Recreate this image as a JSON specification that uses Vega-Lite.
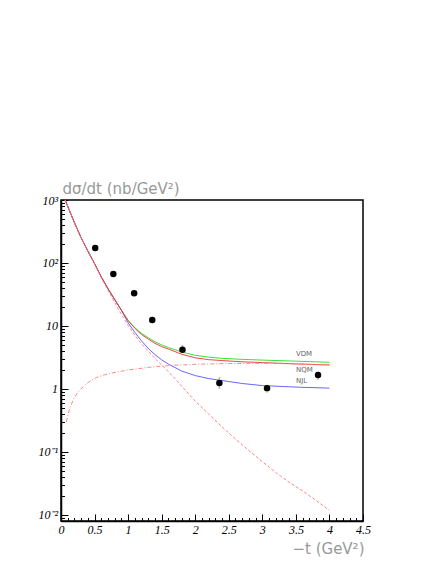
{
  "$schema": "https://vega.github.io/schema/vega-lite/v6.json",
  "width": 302,
  "height": 321,
  "autosize": {"type": "none"},
  "padding": {"left": 61, "top": 200, "right": 73, "bottom": 43},
  "background": "#ffffff",
  "config": {
    "view": {"stroke": "#000000", "strokeWidth": 1.5},
    "axis": {
      "grid": false,
      "domainColor": "#000000",
      "domainWidth": 1.5,
      "tickColor": "#000000",
      "tickWidth": 1,
      "labelFont": "Liberation Serif",
      "labelFontStyle": "italic",
      "labelFontSize": 12,
      "labelColor": "#000000",
      "labelOverlap": false,
      "labelFlush": false,
      "titleFont": "DejaVu Sans",
      "titleFontSize": 15,
      "titleFontWeight": "normal",
      "titleColor": "#999999"
    }
  },
  "datasets": {
    "curves": [
      {"m": "VDM", "x": 0, "y": 1445}, {"m": "VDM", "x": 0.1, "y": 794}, {"m": "VDM", "x": 0.2, "y": 437}, {"m": "VDM", "x": 0.3, "y": 251}, {"m": "VDM", "x": 0.4, "y": 155}, {"m": "VDM", "x": 0.5, "y": 98}, {"m": "VDM", "x": 0.6, "y": 60}, {"m": "VDM", "x": 0.7, "y": 39}, {"m": "VDM", "x": 0.8, "y": 26.3}, {"m": "VDM", "x": 0.9, "y": 17.8},
      {"m": "VDM", "x": 1.0, "y": 12.3}, {"m": "VDM", "x": 1.1, "y": 9.4}, {"m": "VDM", "x": 1.2, "y": 7.6}, {"m": "VDM", "x": 1.3, "y": 6.5}, {"m": "VDM", "x": 1.4, "y": 5.6}, {"m": "VDM", "x": 1.5, "y": 5.0}, {"m": "VDM", "x": 1.6, "y": 4.55}, {"m": "VDM", "x": 1.8, "y": 3.85}, {"m": "VDM", "x": 2.0, "y": 3.42}, {"m": "VDM", "x": 2.2, "y": 3.2}, {"m": "VDM", "x": 2.4, "y": 3.06}, {"m": "VDM", "x": 2.7, "y": 2.95}, {"m": "VDM", "x": 3.0, "y": 2.87}, {"m": "VDM", "x": 3.5, "y": 2.76}, {"m": "VDM", "x": 4.0, "y": 2.65},
      {"m": "NJL", "x": 0, "y": 1445}, {"m": "NJL", "x": 0.1, "y": 794}, {"m": "NJL", "x": 0.2, "y": 437}, {"m": "NJL", "x": 0.3, "y": 251}, {"m": "NJL", "x": 0.4, "y": 155}, {"m": "NJL", "x": 0.5, "y": 98}, {"m": "NJL", "x": 0.6, "y": 60}, {"m": "NJL", "x": 0.7, "y": 39}, {"m": "NJL", "x": 0.8, "y": 26.3}, {"m": "NJL", "x": 0.9, "y": 17.8},
      {"m": "NJL", "x": 1.0, "y": 11.2}, {"m": "NJL", "x": 1.1, "y": 7.9}, {"m": "NJL", "x": 1.2, "y": 5.8}, {"m": "NJL", "x": 1.3, "y": 4.4}, {"m": "NJL", "x": 1.4, "y": 3.5}, {"m": "NJL", "x": 1.5, "y": 2.9}, {"m": "NJL", "x": 1.6, "y": 2.48}, {"m": "NJL", "x": 1.8, "y": 1.92}, {"m": "NJL", "x": 2.0, "y": 1.63}, {"m": "NJL", "x": 2.2, "y": 1.46}, {"m": "NJL", "x": 2.4, "y": 1.36}, {"m": "NJL", "x": 2.7, "y": 1.22}, {"m": "NJL", "x": 3.0, "y": 1.13}, {"m": "NJL", "x": 3.5, "y": 1.07}, {"m": "NJL", "x": 4.0, "y": 1.03},
      {"m": "NQM", "x": 0, "y": 1445}, {"m": "NQM", "x": 0.1, "y": 794}, {"m": "NQM", "x": 0.2, "y": 437}, {"m": "NQM", "x": 0.3, "y": 251}, {"m": "NQM", "x": 0.4, "y": 155}, {"m": "NQM", "x": 0.5, "y": 98}, {"m": "NQM", "x": 0.6, "y": 60}, {"m": "NQM", "x": 0.7, "y": 39}, {"m": "NQM", "x": 0.8, "y": 26.3}, {"m": "NQM", "x": 0.9, "y": 17.8},
      {"m": "NQM", "x": 1.0, "y": 12.1}, {"m": "NQM", "x": 1.1, "y": 9.2}, {"m": "NQM", "x": 1.2, "y": 7.3}, {"m": "NQM", "x": 1.3, "y": 6.2}, {"m": "NQM", "x": 1.4, "y": 5.3}, {"m": "NQM", "x": 1.5, "y": 4.7}, {"m": "NQM", "x": 1.6, "y": 4.3}, {"m": "NQM", "x": 1.8, "y": 3.55}, {"m": "NQM", "x": 2.0, "y": 3.12}, {"m": "NQM", "x": 2.2, "y": 2.92}, {"m": "NQM", "x": 2.4, "y": 2.82}, {"m": "NQM", "x": 2.7, "y": 2.7}, {"m": "NQM", "x": 3.0, "y": 2.62}, {"m": "NQM", "x": 3.5, "y": 2.5}, {"m": "NQM", "x": 4.0, "y": 2.4},
      {"m": "DEC", "x": 0, "y": 1445}, {"m": "DEC", "x": 0.1, "y": 794}, {"m": "DEC", "x": 0.2, "y": 437}, {"m": "DEC", "x": 0.3, "y": 250}, {"m": "DEC", "x": 0.4, "y": 153}, {"m": "DEC", "x": 0.5, "y": 96}, {"m": "DEC", "x": 0.6, "y": 58}, {"m": "DEC", "x": 0.7, "y": 37}, {"m": "DEC", "x": 0.8, "y": 23.5}, {"m": "DEC", "x": 0.9, "y": 15.2},
      {"m": "DEC", "x": 1.0, "y": 10.2}, {"m": "DEC", "x": 1.1, "y": 7.1}, {"m": "DEC", "x": 1.2, "y": 5.2}, {"m": "DEC", "x": 1.3, "y": 4.0}, {"m": "DEC", "x": 1.4, "y": 3.05}, {"m": "DEC", "x": 1.5, "y": 2.4}, {"m": "DEC", "x": 1.6, "y": 1.9}, {"m": "DEC", "x": 1.8, "y": 1.1}, {"m": "DEC", "x": 2.0, "y": 0.64}, {"m": "DEC", "x": 2.2, "y": 0.4}, {"m": "DEC", "x": 2.4, "y": 0.25}, {"m": "DEC", "x": 2.6, "y": 0.16}, {"m": "DEC", "x": 2.8, "y": 0.105}, {"m": "DEC", "x": 3.0, "y": 0.07}, {"m": "DEC", "x": 3.2, "y": 0.047}, {"m": "DEC", "x": 3.4, "y": 0.033}, {"m": "DEC", "x": 3.6, "y": 0.024}, {"m": "DEC", "x": 3.8, "y": 0.017}, {"m": "DEC", "x": 4.0, "y": 0.0118},
      {"m": "RIS", "x": 0.08, "y": 0.3}, {"m": "RIS", "x": 0.12, "y": 0.45}, {"m": "RIS", "x": 0.18, "y": 0.67}, {"m": "RIS", "x": 0.25, "y": 0.88}, {"m": "RIS", "x": 0.33, "y": 1.09}, {"m": "RIS", "x": 0.43, "y": 1.33}, {"m": "RIS", "x": 0.53, "y": 1.52}, {"m": "RIS", "x": 0.65, "y": 1.68}, {"m": "RIS", "x": 0.78, "y": 1.81}, {"m": "RIS", "x": 1.0, "y": 2.0}, {"m": "RIS", "x": 1.3, "y": 2.2}, {"m": "RIS", "x": 1.6, "y": 2.35}, {"m": "RIS", "x": 2.0, "y": 2.46}, {"m": "RIS", "x": 2.5, "y": 2.54}, {"m": "RIS", "x": 3.0, "y": 2.55}, {"m": "RIS", "x": 3.5, "y": 2.5}, {"m": "RIS", "x": 4.0, "y": 2.4}
    ],
    "points": [
      {"x": 0.51, "y": 173, "lo": 163, "hi": 183},
      {"x": 0.78, "y": 67, "lo": 63, "hi": 71},
      {"x": 1.09, "y": 33, "lo": 31, "hi": 35},
      {"x": 1.36, "y": 12.4, "lo": 11.6, "hi": 13.2},
      {"x": 1.81, "y": 4.2, "lo": 3.7, "hi": 5.0},
      {"x": 2.36, "y": 1.24, "lo": 1.0, "hi": 1.55},
      {"x": 3.07, "y": 1.03, "lo": 0.87, "hi": 1.17},
      {"x": 3.83, "y": 1.67, "lo": 1.39, "hi": 1.87}
    ],
    "labels": [
      {"x": 3.5, "y": 3.6, "t": "VDM"},
      {"x": 3.5, "y": 2.0, "t": "NQM"},
      {"x": 3.5, "y": 1.36, "t": "NJL"}
    ]
  },
  "encoding": {
    "x": {
      "field": "x", "type": "quantitative",
      "scale": {"domain": [0, 4.5], "nice": false, "zero": false},
      "axis": {
        "values": [0, 0.1, 0.2, 0.3, 0.4, 0.5, 0.6, 0.7, 0.8, 0.9, 1, 1.1, 1.2, 1.3, 1.4, 1.5, 1.6, 1.7, 1.8, 1.9, 2, 2.1, 2.2, 2.3, 2.4, 2.5, 2.6, 2.7, 2.8, 2.9, 3, 3.1, 3.2, 3.3, 3.4, 3.5, 3.6, 3.7, 3.8, 3.9, 4, 4.1, 4.2, 4.3, 4.4, 4.5],
        "labelExpr": "abs(datum.value * 2 - round(datum.value * 2)) < 0.001 ? format(datum.value, '~g') : ''",
        "tickSize": {"condition": {"test": "abs(datum.value * 2 - round(datum.value * 2)) < 0.001", "value": -7}, "value": -3.5},
        "labelPadding": 10,
        "title": "−t (GeV²)",
        "titleX": 303,
        "titleY": 32,
        "titleAlign": "right",
        "titleBaseline": "alphabetic",
        "titleAnchor": null
      }
    },
    "y": {
      "field": "y", "type": "quantitative",
      "scale": {"type": "log", "domain": [0.008, 1000], "nice": false},
      "axis": {
        "values": [0.008, 0.009, 0.01, 0.02, 0.03, 0.04, 0.05, 0.06, 0.07, 0.08, 0.09, 0.1, 0.2, 0.3, 0.4, 0.5, 0.6, 0.7, 0.8, 0.9, 1, 2, 3, 4, 5, 6, 7, 8, 9, 10, 20, 30, 40, 50, 60, 70, 80, 90, 100, 200, 300, 400, 500, 600, 700, 800, 900, 1000],
        "labelExpr": "datum.value == 1000 ? '10³' : datum.value == 100 ? '10²' : datum.value == 10 ? '10' : datum.value == 1 ? '1' : datum.value == 0.1 ? '10⁻¹' : datum.value == 0.01 ? '10⁻²' : ''",
        "tickSize": {"condition": {"test": "abs(log(datum.value) / LN10 - round(log(datum.value) / LN10)) < 0.001", "value": -7}, "value": -3.5},
        "labelPadding": 10.5,
        "title": "dσ/dt (nb/GeV²)",
        "titleAngle": 0,
        "titleX": 1,
        "titleY": -7,
        "titleAlign": "left",
        "titleBaseline": "alphabetic",
        "titleAnchor": null
      }
    }
  },
  "layer": [
    {
      "data": {"name": "curves"},
      "transform": [{"filter": "datum.m == 'VDM'"}],
      "mark": {"type": "line", "clip": true, "color": "#22dd22", "strokeWidth": 0.9}
    },
    {
      "data": {"name": "curves"},
      "transform": [{"filter": "datum.m == 'NJL'"}],
      "mark": {"type": "line", "clip": true, "color": "#5555ff", "strokeWidth": 0.9}
    },
    {
      "data": {"name": "curves"},
      "transform": [{"filter": "datum.m == 'NQM'"}],
      "mark": {"type": "line", "clip": true, "color": "#ee3333", "strokeWidth": 0.9}
    },
    {
      "data": {"name": "curves"},
      "transform": [{"filter": "datum.m == 'DEC'"}],
      "mark": {"type": "line", "clip": true, "color": "#ff7777", "strokeWidth": 0.9, "strokeDash": [3, 2]}
    },
    {
      "data": {"name": "curves"},
      "transform": [{"filter": "datum.m == 'RIS'"}],
      "mark": {"type": "line", "clip": true, "color": "#ff7777", "strokeWidth": 0.9, "strokeDash": [4, 2, 1, 2]}
    },
    {
      "data": {"name": "points"},
      "mark": {"type": "rule", "color": "#bbbbbb", "strokeWidth": 1.5},
      "encoding": {"y": {"field": "lo", "type": "quantitative"}, "y2": {"field": "hi"}}
    },
    {
      "data": {"name": "points"},
      "mark": {"type": "circle", "color": "#000000", "opacity": 1, "size": 42}
    },
    {
      "data": {"name": "labels"},
      "mark": {"type": "text", "align": "left", "baseline": "middle", "font": "DejaVu Sans", "fontSize": 7, "color": "#666666"},
      "encoding": {"text": {"field": "t"}}
    }
  ]
}
